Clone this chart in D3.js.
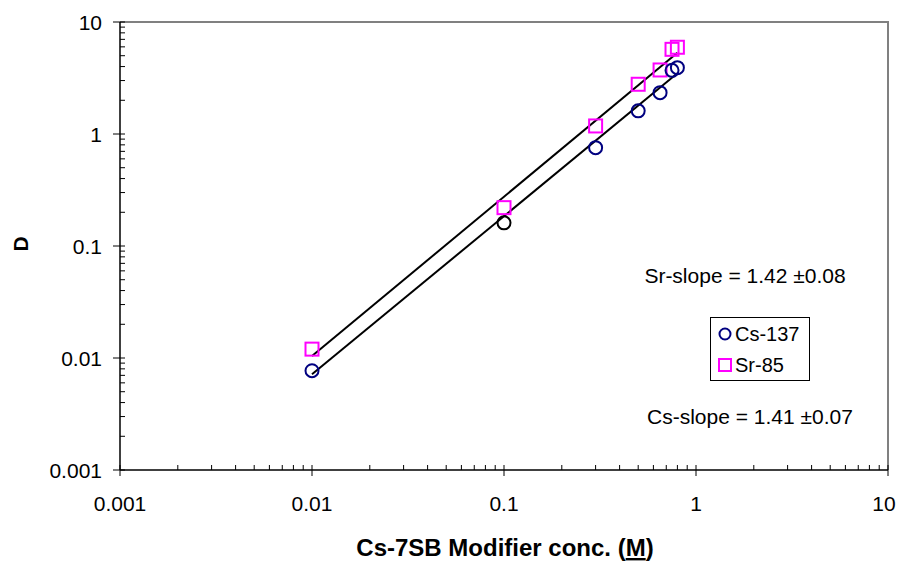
<!DOCTYPE html>
<html>
<head>
<meta charset="utf-8">
<script src="https://cdn.jsdelivr.net/npm/d3@7"></script>
<style>
  body { margin: 0; background: #fff; }
  text { font-family: "Liberation Sans", Arial, sans-serif; }
</style>
</head>
<body>
<script>
// data
var conc = [0.01, 0.1, 0.3, 0.5, 0.65, 0.75, 0.8];
var csD = [0.0077, 0.161, 0.755, 1.61, 2.34, 3.7, 3.91];
var srD = [0.012, 0.22, 1.18, 2.78, 3.73, 5.7, 5.95];

// fitted lines, value at both ends
var fitX = [0.01, 0.8];
var csFit = [0.00715, 3.48];
var srFit = [0.0104, 5.32];

var xTicks = [0.001, 0.01, 0.1, 1, 10];
var yTicks = [0.001, 0.01, 0.1, 1, 10];

var w = 898, h = 562;
var pLeft = 120, pRight = 888, pTop = 22, pBottom = 470;

var svg = d3.select("body").append("svg")
  .attr("width", w)
  .attr("height", h);

var x = d3.scaleLog().domain([0.001, 10]).range([pLeft, pRight]);
var y = d3.scaleLog().domain([0.001, 10]).range([pBottom, pTop]);

// minor ticks (2..9 in each decade)
var minor = [];
[0.001, 0.01, 0.1, 1].forEach(function(d) {
  for (var k = 2; k < 10; k++) minor.push(d * k);
});

// grey frame top + right
svg.append("path")
  .attr("d", "M" + pLeft + "," + pTop + "H" + pRight + "V" + pBottom)
  .attr("fill", "none")
  .attr("stroke", "#808080")
  .attr("stroke-width", 2);

// x axis
var gx = svg.append("g");
gx.selectAll("line.minor").data(minor).enter().append("line")
  .attr("x1", d => x(d)).attr("x2", d => x(d))
  .attr("y1", pBottom - 5).attr("y2", pBottom)
  .attr("stroke", "#000").attr("stroke-width", 1);
gx.selectAll("line.major").data(xTicks).enter().append("line")
  .attr("x1", d => x(d)).attr("x2", d => x(d))
  .attr("y1", pBottom - 5).attr("y2", pBottom + 6)
  .attr("stroke", "#000").attr("stroke-width", 1);
gx.append("line")
  .attr("x1", pLeft).attr("x2", pRight)
  .attr("y1", pBottom).attr("y2", pBottom)
  .attr("stroke", "#000").attr("stroke-width", 1.5);
// last label is pulled in so it stays inside the page
gx.selectAll("text").data(xTicks).enter().append("text")
  .attr("x", d => Math.min(x(d), 884))
  .attr("y", 511)
  .attr("text-anchor", "middle")
  .attr("font-size", 21)
  .text(d => String(d));

// y axis
var gy = svg.append("g");
gy.selectAll("line.minor").data(minor).enter().append("line")
  .attr("x1", pLeft).attr("x2", pLeft + 5)
  .attr("y1", d => y(d)).attr("y2", d => y(d))
  .attr("stroke", "#000").attr("stroke-width", 1);
gy.selectAll("line.major").data(yTicks).enter().append("line")
  .attr("x1", pLeft - 7).attr("x2", pLeft + 5)
  .attr("y1", d => y(d)).attr("y2", d => y(d))
  .attr("stroke", "#000").attr("stroke-width", 1);
gy.append("line")
  .attr("x1", pLeft).attr("x2", pLeft)
  .attr("y1", pTop).attr("y2", pBottom)
  .attr("stroke", "#000").attr("stroke-width", 1.5);
gy.selectAll("text").data(yTicks).enter().append("text")
  .attr("x", 102)
  .attr("y", d => y(d) + 7.5)
  .attr("text-anchor", "end")
  .attr("font-size", 21)
  .text(d => String(d));

// axis titles
svg.append("text")
  .attr("x", 505)
  .attr("y", 556)
  .attr("text-anchor", "middle")
  .attr("font-size", 24)
  .attr("font-weight", "bold")
  .html('Cs-7SB Modifier conc. (<tspan text-decoration="underline">M</tspan>)');

svg.append("text")
  .attr("transform", "translate(28,244) rotate(-90)")
  .attr("text-anchor", "middle")
  .attr("font-size", 21)
  .attr("font-weight", "bold")
  .text("D");

// fit lines
var line = d3.line().x(d => x(d[0])).y(d => y(d[1]));
svg.append("path")
  .attr("d", line(d3.zip(fitX, srFit)))
  .attr("stroke", "#000").attr("stroke-width", 2).attr("fill", "none");
svg.append("path")
  .attr("d", line(d3.zip(fitX, csFit)))
  .attr("stroke", "#000").attr("stroke-width", 2).attr("fill", "none");

// Sr-85 squares
svg.selectAll("rect.sr").data(d3.zip(conc, srD)).enter().append("rect")
  .attr("x", d => x(d[0]) - 6.5)
  .attr("y", d => y(d[1]) - 6.5)
  .attr("width", 13).attr("height", 13)
  .attr("fill", "none")
  .attr("stroke", "#ff00ff")
  .attr("stroke-width", 2);

// Cs-137 circles (the 0.1 M point is drawn black in the original)
svg.selectAll("circle.cs").data(d3.zip(conc, csD)).enter().append("circle")
  .attr("cx", d => x(d[0]))
  .attr("cy", d => y(d[1]))
  .attr("r", 6.5)
  .attr("fill", "none")
  .attr("stroke", d => d[0] === 0.1 ? "#000" : "#000080")
  .attr("stroke-width", 2);

// slope annotations
svg.append("text")
  .attr("x", 745).attr("y", 283)
  .attr("text-anchor", "middle")
  .attr("font-size", 21)
  .text("Sr-slope = 1.42 \u00b10.08");
svg.append("text")
  .attr("x", 750).attr("y", 424)
  .attr("text-anchor", "middle")
  .attr("font-size", 21)
  .text("Cs-slope = 1.41 \u00b10.07");

// legend
var lg = svg.append("g");
lg.append("rect")
  .attr("x", 710.5).attr("y", 317.5)
  .attr("width", 99).attr("height", 63)
  .attr("fill", "#fff").attr("stroke", "#000").attr("stroke-width", 1);
lg.append("circle")
  .attr("cx", 725).attr("cy", 334).attr("r", 5.5)
  .attr("fill", "none").attr("stroke", "#000080").attr("stroke-width", 2);
lg.append("rect")
  .attr("x", 719).attr("y", 359).attr("width", 12).attr("height", 12)
  .attr("fill", "none").attr("stroke", "#ff00ff").attr("stroke-width", 2);
lg.append("text").attr("x", 735).attr("y", 341).attr("font-size", 20).text("Cs-137");
lg.append("text").attr("x", 735).attr("y", 372).attr("font-size", 20).text("Sr-85");
</script>
</body>
</html>
